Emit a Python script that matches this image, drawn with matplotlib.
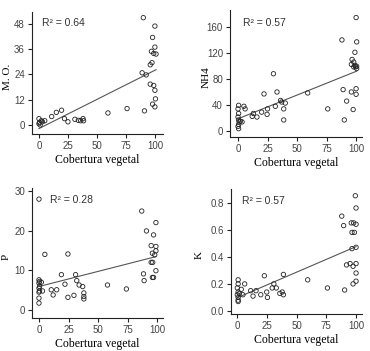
import numpy as np
import matplotlib
matplotlib.use("Agg")
import matplotlib.pyplot as plt

# ---------------- data ----------------
mo_x = [0, 0, 1, 2, 3, 5, 0.5, 11, 15, 19.5, 22, 25, 31, 34, 36, 38, 38.5, 59.5, 76, 91,
        90, 100, 98, 100, 97, 99, 101, 97.5, 96, 89, 92.5, 96, 99, 100, 100.5, 98, 100]
mo_y = [3, 0.6, 0, 2, 1.5, 2, 1.2, 4, 6, 7, 3, 1.5, 2.7, 2.2, 2, 3, 2, 5.7, 7.8, 6.7,
        51, 47, 41.6, 37, 35, 34, 33.7, 29.6, 28.6, 24.8, 23.8, 19.4, 18.8, 16.5, 12.4, 9.9, 8.6]

nh4_x = [0.5, 0, 0.5, 0, 0.5, 1, 0.5, 0, 0.5, 2, 3.4, 5, 6, 12, 13, 16, 20, 22, 24.6, 25,
         30, 31.6, 33, 36, 37, 38.7, 38.7, 40, 59, 76, 88, 89, 90, 92, 96, 96.6, 97.5, 98,
         98, 99, 99, 99.5, 100, 100.5, 100.5, 100.5, 100, 100, 96]
nh4_y = [39.5, 34, 27, 21.5, 17, 14, 10, 7, 3.6, 15, 14, 38, 34, 22.5, 27, 21.5, 29, 57, 25.6, 34,
         88, 38, 60, 47, 44.6, 34, 17, 43, 58.5, 34, 140, 63.6, 17, 46, 60, 110, 33, 106,
         98.5, 121, 101, 98.5, 174.4, 137, 99.5, 96, 65, 56.4, 102.5]

p_x = [0, 0, 0.5, 0, 0.5, 0, 0.5, 0, 0, 0, 2, 3, 5, 10.4, 12, 15, 19, 22, 24.5, 24.5,
       29.6, 31, 32, 34, 37, 38, 38, 38, 58, 74, 87, 88.5, 89, 91, 95, 96, 95, 96.3,
       96, 97, 97, 98, 99, 99, 99, 99]
p_y = [27.9, 7.6, 7.2, 6.8, 5.9, 5.5, 4.8, 4.5, 3, 1.75, 7, 4.8, 14, 5.1, 3.8, 5.1, 8.9, 6.5, 14.1, 3.2,
       3.7, 8.9, 7.4, 6.3, 5.9, 4.3, 3.4, 2.8, 6.3, 5.3, 24.9, 9.1, 7.4, 19.9, 16.2, 14.3, 12, 12,
       8.2, 8.2, 18.9, 13.9, 22, 16, 14.9, 9.9]

k_x = [1, 1, 0.3, 1, 0.3, 1, 1, 1, 2, 3.6, 5, 6.5, 11.5, 13.5, 16, 20, 23, 25, 25.6, 29.6,
       31, 33, 36, 38, 39, 39, 59.4, 76, 88, 89.6, 90.4, 92, 95, 96, 96.6, 96.6, 97.5, 97.5,
       98, 98.6, 99.4, 100, 100, 100, 100, 100, 100]
k_y = [0.23, 0.20, 0.17, 0.14, 0.12, 0.10, 0.08, 0.07, 0.13, 0.16, 0.12, 0.20, 0.15, 0.11, 0.15, 0.12, 0.26, 0.14, 0.10, 0.17,
       0.20, 0.17, 0.13, 0.14, 0.27, 0.12, 0.23, 0.17, 0.70, 0.63, 0.155, 0.34, 0.35, 0.65, 0.58, 0.46, 0.33, 0.20,
       0.65, 0.58, 0.85, 0.76, 0.64, 0.47, 0.35, 0.28, 0.22]

x_ticks = [0, 25, 50, 75, 100]
x_label = "Cobertura vegetal"

panels = [
    dict(x=mo_x, y=mo_y, ylabel="M. O.", r2="R² = 0.64", yticks=[0, 12, 24, 36, 48],
         ylim=(-4.3, 53.7), xlim=(-6, 107), rect=[32, 134, 163, 12], txt=(0.076, 0.91),
         fmt="%d", ylab_x=-0.15),
    dict(x=nh4_x, y=nh4_y, ylabel="NH4", r2="R² = 0.57", yticks=[0, 40, 80, 120, 160],
         ylim=(-9.2, 186), xlim=(-6.8, 105), rect=[230, 137, 362, 10], txt=(0.10, 0.90),
         fmt="%d", ylab_x=-0.15),
    dict(x=p_x, y=p_y, ylabel="P", r2="R² = 0.28", yticks=[0, 10, 20, 30],
         ylim=(-2, 30.7), xlim=(-5.9, 105), rect=[32, 318, 163, 188], txt=(0.137, 0.91),
         fmt="%d", ylab_x=-0.165),
    dict(x=k_x, y=k_y, ylabel="K", r2="R² = 0.57", yticks=[0.0, 0.2, 0.4, 0.6, 0.8],
         ylim=(-0.022, 0.9), xlim=(-5, 105), rect=[231, 314, 362, 189], txt=(0.084, 0.90),
         fmt="%.1f", ylab_x=-0.205),
]

W, H = 370, 351
fig = plt.figure(figsize=(W / 100, H / 100), dpi=100)
fig.patch.set_facecolor("white")

for p in panels:
    l, b, r, t = p["rect"]
    ax = fig.add_axes([l / W, 1 - b / H, (r - l) / W, (b - t) / H])
    x = np.array(p["x"], dtype=float)
    y = np.array(p["y"], dtype=float)
    ax.scatter(x, y, s=10, facecolors="none", edgecolors="#222222", linewidths=0.6, zorder=3)
    slope, intercept = np.polyfit(x, y, 1)
    xs = np.array([x.min(), x.max()])
    ax.plot(xs, intercept + slope * xs, color="#555555", lw=0.8, zorder=2)
    ax.set_xlim(*p["xlim"])
    ax.set_ylim(*p["ylim"])
    ax.set_xticks(x_ticks)
    ax.set_yticks(p["yticks"])
    ax.yaxis.set_major_formatter(matplotlib.ticker.FormatStrFormatter(p["fmt"]))
    for s in ["top", "right"]:
        ax.spines[s].set_visible(False)
    for s in ["left", "bottom"]:
        ax.spines[s].set_linewidth(0.8)
        ax.spines[s].set_color("#222222")
    ax.tick_params(direction="out", length=3, width=0.8, colors="#222222", pad=2,
                   labelcolor="#444444")
    for lab in ax.get_xticklabels() + ax.get_yticklabels():
        lab.set_fontfamily("Liberation Sans")
        lab.set_fontsize(7)
    ax.set_xlabel(x_label, family="Liberation Serif", fontsize=8.5, labelpad=2)
    ax.set_ylabel(p["ylabel"], family="Liberation Serif", fontsize=8)
    ax.yaxis.set_label_coords(p["ylab_x"], 0.47)
    ax.text(p["txt"][0], p["txt"][1], p["r2"], transform=ax.transAxes, family="Liberation Sans",
            fontsize=7.5, color="#333333", va="center", ha="left")

fig.savefig("out.png", dpi=100, facecolor="white")
